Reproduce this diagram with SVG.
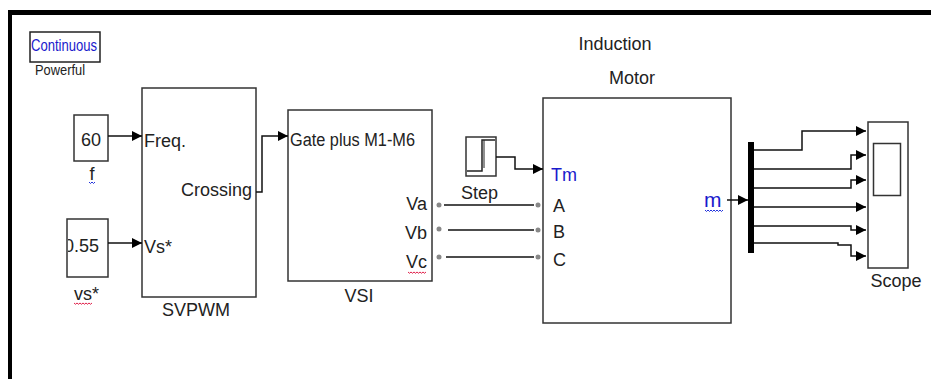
<svg xmlns="http://www.w3.org/2000/svg" width="931" height="379" viewBox="0 0 931 379">
<style>
.blk{fill:#fff;stroke:#333;stroke-width:1.5}
.t{font-family:"Liberation Sans",Arial,sans-serif;font-size:18px;fill:#222}
.blue{fill:#1a1acc}
.w{fill:none;stroke:#111;stroke-width:1.5}
.pl{fill:none;stroke:#222;stroke-width:1.5}
.dot{fill:#888}
.sq{fill:none;stroke-width:1}
</style>
<defs>
<marker id="ah" markerUnits="userSpaceOnUse" markerWidth="10" markerHeight="10" refX="10" refY="5" orient="auto" viewBox="0 0 10 10">
<path d="M0,0 L10,5 L0,10 z" fill="#000"/>
</marker>
<clipPath id="c055"><rect x="68" y="219" width="40" height="58"/></clipPath>
</defs>
<rect width="931" height="379" fill="#fff"/>
<g id="frame">
<line x1="8" y1="12.5" x2="931" y2="12.5" stroke="#000" stroke-width="5"/>
<line x1="10" y1="10" x2="10" y2="379" stroke="#000" stroke-width="4"/>
</g>
<g id="continuous">
<rect x="30" y="32" width="70" height="30" fill="#fff" stroke="#222" stroke-width="1.5"/>
<text class="t blue" x="31" y="51" textLength="66" lengthAdjust="spacingAndGlyphs" style="font-size:16px">Continuous</text>
<text class="t" x="35" y="75" textLength="50" lengthAdjust="spacingAndGlyphs" style="font-size:14px">Powerful</text>
</g>
<g id="const-f">
<rect class="blk" x="74" y="115" width="34" height="46"/>
<text class="t" x="91" y="146" text-anchor="middle">60</text>
<text class="t" x="92" y="180" text-anchor="middle">f</text>
<path class="sq" d="M89,182 q1.5,3 3,0 q1.5,3 3,0" stroke="#2233dd"/>
</g>
<g id="const-vs">
<rect class="blk" x="67" y="219" width="41" height="58"/>
<text class="t" x="64" y="252" clip-path="url(#c055)">0.55</text>
<text class="t" x="74" y="300">vs*</text>
<path class="sq" d="M74,303 q1.5,2.5 3,0 q1.5,2.5 3,0 q1.5,2.5 3,0 q1.5,2.5 3,0 q1.5,2.5 3,0 q1.5,2.5 3,0" stroke="#e0204a"/>
</g>
<g id="svpwm">
<rect class="blk" x="142" y="88" width="114" height="209"/>
<text class="t" x="144" y="147">Freq.</text>
<text class="t" x="252" y="196" text-anchor="end">Crossing</text>
<text class="t" x="144" y="253">Vs*</text>
<text class="t" x="196" y="316" text-anchor="middle">SVPWM</text>
</g>
<g id="vsi">
<rect class="blk" x="288" y="110" width="144" height="171"/>
<text class="t" x="290" y="146" textLength="125" lengthAdjust="spacingAndGlyphs">Gate plus M1-M6</text>
<text class="t" x="427" y="210" text-anchor="end">Va</text>
<text class="t" x="427" y="239" text-anchor="end">Vb</text>
<text class="t" x="427" y="268" text-anchor="end">Vc</text>
<path class="sq" d="M408,272 q1.5,2.5 3,0 q1.5,2.5 3,0 q1.5,2.5 3,0 q1.5,2.5 3,0 q1.5,2.5 3,0 q1.5,2.5 3,0" stroke="#e0204a"/>
<text class="t" x="359" y="302" text-anchor="middle">VSI</text>
</g>
<g id="step">
<rect class="blk" x="466" y="137" width="30" height="39"/>
<path class="pl" d="M467,171 H482 V140 H495"/>
<line x1="484" y1="140" x2="484" y2="168" stroke="#222" stroke-width="1"/>
<text class="t" x="461" y="199">Step</text>
</g>
<g id="motor">
<rect class="blk" x="543" y="98" width="188" height="225"/>
<text class="t" x="615" y="50" text-anchor="middle">Induction</text>
<text class="t" x="632" y="84" text-anchor="middle">Motor</text>
<text class="t blue" x="551" y="181">Tm</text>
<text class="t" x="553" y="212">A</text>
<text class="t" x="553" y="238">B</text>
<text class="t" x="553" y="266">C</text>
<text class="t blue" x="704" y="207" style="font-size:21px">m</text>
<path class="sq" d="M705,210 q1.5,3 3,0 q1.5,3 3,0 q1.5,3 3,0 q1.5,3 3,0 q1.5,3 3,0 q1.5,3 3,0" stroke="#2233dd"/>
</g>
<g id="demux">
<rect x="748" y="142" width="6" height="111" fill="#000"/>
</g>
<g id="scope">
<rect class="blk" x="868" y="122" width="40" height="146"/>
<rect x="873.5" y="143.5" width="27" height="52" fill="#fff" stroke="#333" stroke-width="1.5"/>
<text class="t" x="896" y="287" text-anchor="middle">Scope</text>
</g>
<g id="connectors">
<line class="w" x1="108" y1="136" x2="142" y2="136" marker-end="url(#ah)"/>
<line class="w" x1="108" y1="243" x2="142" y2="243" marker-end="url(#ah)"/>
<polyline class="w" points="256,192 262,192 262,136 288,136" marker-end="url(#ah)"/>
<polyline class="w" points="496,157 515,157 515,169 543,169" marker-end="url(#ah)"/>
<line class="w" x1="444" y1="205" x2="534" y2="205"/>
<line class="w" x1="448" y1="230" x2="534" y2="230"/>
<line class="w" x1="446" y1="257" x2="534" y2="257"/>
<circle class="dot" cx="439" cy="205" r="2.5"/>
<circle class="dot" cx="439" cy="229" r="2.5"/>
<circle class="dot" cx="439" cy="257" r="2.5"/>
<circle class="dot" cx="538" cy="205" r="2.5"/>
<circle class="dot" cx="538" cy="230" r="2.5"/>
<circle class="dot" cx="538" cy="257" r="2.5"/>
<line class="w" x1="727" y1="200" x2="748" y2="200" marker-end="url(#ah)"/>
<polyline class="w" points="754,150 802,150 802,131 866,131" marker-end="url(#ah)"/>
<polyline class="w" points="754,169 851,169 851,155 866,155" marker-end="url(#ah)"/>
<polyline class="w" points="754,188 851,188 851,180 866,180" marker-end="url(#ah)"/>
<line class="w" x1="754" y1="207" x2="866" y2="207" marker-end="url(#ah)"/>
<polyline class="w" points="754,226 851,226 851,230 866,230" marker-end="url(#ah)"/>
<polyline class="w" points="754,243 838,243 838,245 851,245 851,256 866,256" marker-end="url(#ah)"/>
</g>
</svg>
